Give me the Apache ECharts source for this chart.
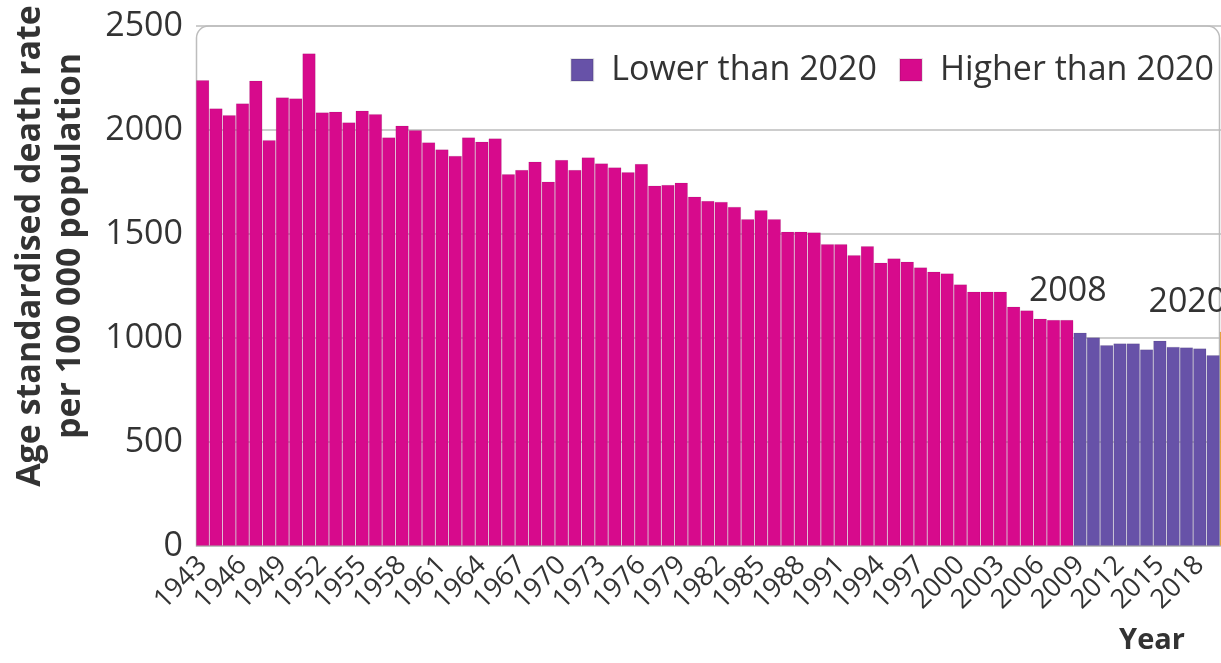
<!DOCTYPE html>
<html>
<head>
<meta charset="utf-8">
<script src="https://cdn.jsdelivr.net/npm/echarts@6/dist/echarts.min.js"></script>
<style>html,body{margin:0;padding:0;background:#fff;overflow:hidden}#c{width:1233px;height:663px}</style>
</head>
<body>
<div id="c"></div>
<script>
const years = [1943,1944,1945,1946,1947,1948,1949,1950,1951,1952,1953,1954,1955,1956,1957,1958,1959,1960,1961,1962,1963,1964,1965,1966,1967,1968,1969,1970,1971,1972,1973,1974,1975,1976,1977,1978,1979,1980,1981,1982,1983,1984,1985,1986,1987,1988,1989,1990,1991,1992,1993,1994,1995,1996,1997,1998,1999,2000,2001,2002,2003,2004,2005,2006,2007,2008,2009,2010,2011,2012,2013,2014,2015,2016,2017,2018,2019,2020];
const rates = [2240,2104,2072,2128,2237,1952,2157,2152,2368,2085,2088,2037,2093,2077,1965,2021,2000,1941,1907,1876,1965,1944,1960,1788,1808,1848,1752,1856,1808,1869,1840,1821,1797,1837,1733,1736,1747,1680,1659,1655,1631,1572,1615,1572,1511,1511,1508,1452,1452,1399,1442,1362,1383,1367,1340,1319,1311,1258,1223,1223,1223,1151,1133,1093,1087,1087,1026,1003,966,974,974,945,987,958,955,950,918,1031];
const yTicks = [0,500,1000,1500,2000,2500];
const seriesNames = ['Lower than 2020','Higher than 2020'];
const currentYear = 2020;
const annotatedYears = [2008, 2020];

const colHigh = '#D70A8C', colLow = '#6752A8', colCur = '#F2A22E';
const txt = '#333333';
const FONT = 'Open Sans';

const labelCfg = (y) => annotatedYears.includes(y) ? {
  show: true, position: 'top', distance: 12, formatter: String(y),
  fontSize: 34, color: txt, fontFamily: FONT,
  offset: y === currentYear ? [-39, 0] : [1, 0]
} : undefined;

const curVal = rates[years.indexOf(currentYear)];
const higher = years.map((y, i) => (y !== currentYear && rates[i] > curVal) ? {value: rates[i], label: labelCfg(y)} : '-');
const lower = years.map((y, i) => (y !== currentYear && rates[i] <= curVal) ? {value: rates[i]} : '-');
const current = years.map((y, i) => y === currentYear ? {value: rates[i], label: labelCfg(y)} : '-');

const chart = echarts.init(document.getElementById('c'));
const barStyle = (c) => ({color: c, borderColor: 'rgba(0,0,0,0.10)', borderWidth: 0.8});
chart.setOption({
  animation: false,
  textStyle: {fontFamily: FONT},
  grid: {left: 196, right: 0, top: 26, bottom: 117},
  legend: {
    data: seriesNames, right: 14, top: 48, itemWidth: 22, itemHeight: 22, itemGap: 22,
    icon: 'rect',
    textStyle: {fontSize: 34, color: txt, fontFamily: FONT, padding: [0, 0, 0, 13]}
  },
  title: {text: 'Year', right: 43, bottom: 3, textStyle: {fontSize: 29, fontWeight: 'bold', color: txt, fontFamily: FONT}},
  xAxis: {
    type: 'category', data: years,
    axisLine: {show: false}, axisTick: {show: false},
    axisLabel: {interval: 2, rotate: 45, fontSize: 27, color: txt, margin: 15, fontFamily: FONT}
  },
  yAxis: {
    type: 'value', min: yTicks[0], max: yTicks[yTicks.length - 1], interval: yTicks[1] - yTicks[0],
    name: 'Age standardised death rate\nper 100 000 population',
    nameLocation: 'middle', nameGap: 106,
    nameTextStyle: {fontSize: 34, fontWeight: 'bold', color: txt, lineHeight: 40, fontFamily: FONT, padding: [0, 0, 0, 80]},
    axisLine: {show: false}, axisTick: {show: false},
    axisLabel: {fontSize: 34, color: txt, margin: 13, fontFamily: FONT, formatter: (v) => String(v)},
    splitLine: {lineStyle: {color: '#bdbdbd', width: 1.5}}
  },
  series: [
    {name: seriesNames[0], type: 'bar', stack: 't', data: lower, barGap: '0%', barCategoryGap: '0%', itemStyle: barStyle(colLow)},
    {name: seriesNames[1], type: 'bar', stack: 't', data: higher, barGap: '0%', barCategoryGap: '0%', itemStyle: barStyle(colHigh)},
    {name: 'Current', type: 'bar', stack: 't', data: current, barGap: '0%', barCategoryGap: '0%', itemStyle: barStyle(colCur)}
  ]
});

// rounded frame at the top of the plot, derived from the axes
const p0 = chart.convertToPixel({gridIndex: 0}, [0, yTicks[yTicks.length - 1]]);
const p1 = chart.convertToPixel({gridIndex: 0}, [1, 0]);
const pn = chart.convertToPixel({gridIndex: 0}, [years.length - 1, 0]);
const half = (p1[0] - p0[0]) / 2;
chart.setOption({
  graphic: [{
    type: 'rect', z: -1, silent: true,
    shape: {x: p0[0] - half + 0.5, y: p0[1], width: pn[0] - p0[0] + 2 * half - 14, height: p1[1] - p0[1], r: [12, 12, 0, 0]},
    style: {fill: null, stroke: '#bdbdbd', lineWidth: 1.5}
  }]
});
</script>
</body>
</html>
